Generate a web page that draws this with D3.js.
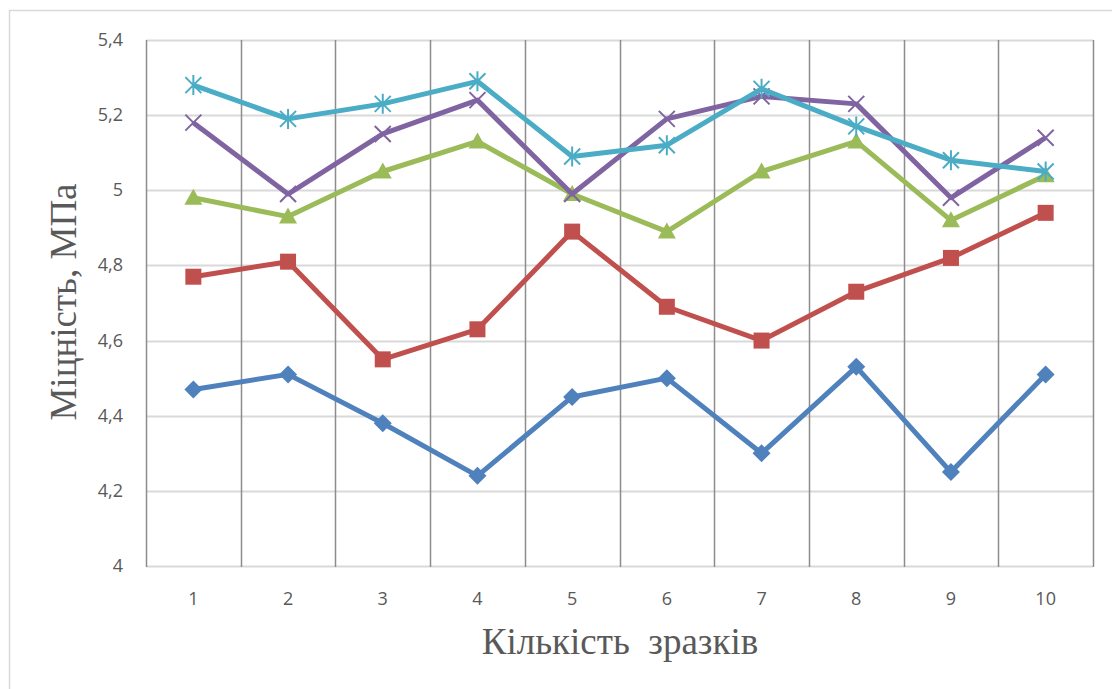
<!DOCTYPE html>
<html lang="uk">
<head>
<meta charset="UTF-8">
<title>Міцність зразків</title>
<script src="https://d3js.org/d3.v7.min.js"></script>
<style>
  body { margin: 0; background: #fff; }
  .tick-label { font-family: "Open Sans", "Liberation Sans", sans-serif; font-size: 18px; fill: #595959; }
  .axis-title { font-family: "Liberation Serif", "DejaVu Serif", serif; font-size: 37px; fill: #595959; }
</style>
</head>
<body>
<script>
// data
const samples = [1, 2, 3, 4, 5, 6, 7, 8, 9, 10];
const yTicks = [4, 4.2, 4.4, 4.6, 4.8, 5, 5.2, 5.4];
const seriesBlue   = [4.47, 4.51, 4.38, 4.24, 4.45, 4.50, 4.30, 4.53, 4.25, 4.51];
const seriesRed    = [4.77, 4.81, 4.55, 4.63, 4.89, 4.69, 4.60, 4.73, 4.82, 4.94];
const seriesGreen  = [4.98, 4.93, 5.05, 5.13, 4.99, 4.89, 5.05, 5.13, 4.92, 5.04];
const seriesPurple = [5.18, 4.99, 5.15, 5.24, 4.99, 5.19, 5.25, 5.23, 4.98, 5.14];
const seriesCyan   = [5.28, 5.19, 5.23, 5.29, 5.09, 5.12, 5.27, 5.17, 5.08, 5.05];

const series = [
  { values: seriesBlue,   color: "#4F81BD", marker: "diamond" },
  { values: seriesRed,    color: "#C0504D", marker: "square" },
  { values: seriesGreen,  color: "#9BBB59", marker: "triangle" },
  { values: seriesPurple, color: "#8064A2", marker: "cross" },
  { values: seriesCyan,   color: "#4BACC6", marker: "star" }
];

const width = 1112, height = 689;
const plot = { left: 146, right: 1093, top: 40, bottom: 566 };

const svg = d3.select("body").append("svg")
  .attr("width", width)
  .attr("height", height);

// outer chart border
svg.append("rect")
  .attr("x", 9.5).attr("y", 10.5)
  .attr("width", 1110).attr("height", 700)
  .attr("fill", "none")
  .attr("stroke", "#d9d9d9")
  .attr("stroke-width", 1.5);

const x = d3.scaleBand()
  .domain(samples)
  .range([plot.left, plot.right]);

const y = d3.scaleLinear()
  .domain([4, 5.4])
  .range([plot.bottom, plot.top]);

// horizontal gridlines
svg.append("g")
  .selectAll("line")
  .data(yTicks)
  .join("line")
  .attr("x1", plot.left).attr("x2", plot.right)
  .attr("y1", d => Math.round(y(d)) + 0.5)
  .attr("y2", d => Math.round(y(d)) + 0.5)
  .attr("stroke", "#d9d9d9")
  .attr("stroke-width", 2);

// vertical gridlines at category boundaries (plus edges)
const boundaries = samples.map(d => x(d)).concat([plot.right]);
svg.append("g")
  .selectAll("line")
  .data(boundaries)
  .join("line")
  .attr("x1", d => Math.round(d) + 0.5)
  .attr("x2", d => Math.round(d) + 0.5)
  .attr("y1", plot.top)
  .attr("y2", plot.bottom + 1)
  .attr("stroke", "#8c8c8c")
  .attr("stroke-width", 1.5);

// y tick labels
svg.append("g")
  .selectAll("text")
  .data(yTicks)
  .join("text")
  .attr("class", "tick-label")
  .attr("x", 123)
  .attr("y", d => y(d) + 6)
  .attr("text-anchor", "end")
  .text(d => d3.format(".1~f")(d).replace(".", ","));

// x tick labels
svg.append("g")
  .selectAll("text")
  .data(samples)
  .join("text")
  .attr("class", "tick-label")
  .attr("x", d => x(d) + x.bandwidth() / 2)
  .attr("y", 605)
  .attr("text-anchor", "middle")
  .text(d => d);

// axis titles
svg.append("text")
  .attr("class", "axis-title")
  .attr("x", 620)
  .attr("y", 654)
  .attr("text-anchor", "middle")
  .style("white-space", "pre")
  .attr("xml:space", "preserve")
  .text("Кількість  зразків");

svg.append("text")
  .attr("class", "axis-title")
  .attr("transform", "translate(76,302) rotate(-90)")
  .attr("text-anchor", "middle")
  .text("Міцність, МПа");

const cx = (d, i) => x(samples[i]) + x.bandwidth() / 2;

const line = d3.line()
  .x((d, i) => cx(d, i))
  .y(d => y(d));

series.forEach(s => {
  const g = svg.append("g");
  g.append("path")
    .datum(s.values)
    .attr("d", line)
    .attr("fill", "none")
    .attr("stroke", s.color)
    .attr("stroke-width", 5)
    .attr("stroke-linejoin", "round");

  const pts = g.selectAll("g.pt")
    .data(s.values)
    .join("g")
    .attr("class", "pt")
    .attr("transform", (d, i) => `translate(${cx(d, i)},${y(d)})`);

  if (s.marker === "diamond") {
    pts.append("path")
      .attr("d", "M0,-9L9,0L0,9L-9,0Z")
      .attr("fill", s.color);
  } else if (s.marker === "square") {
    pts.append("rect")
      .attr("x", -8).attr("y", -8)
      .attr("width", 16).attr("height", 16)
      .attr("fill", s.color);
  } else if (s.marker === "triangle") {
    pts.append("path")
      .attr("d", "M0,-9L9,7L-9,7Z")
      .attr("fill", s.color);
  } else if (s.marker === "cross") {
    pts.append("path")
      .attr("d", "M-8,-8L8,8M-8,8L8,-8")
      .attr("stroke", s.color)
      .attr("stroke-width", 2);
  } else if (s.marker === "star") {
    pts.append("path")
      .attr("d", "M-8,-8L8,8M-8,8L8,-8M0,-10L0,10")
      .attr("stroke", s.color)
      .attr("stroke-width", 2);
  }
});
</script>
</body>
</html>
